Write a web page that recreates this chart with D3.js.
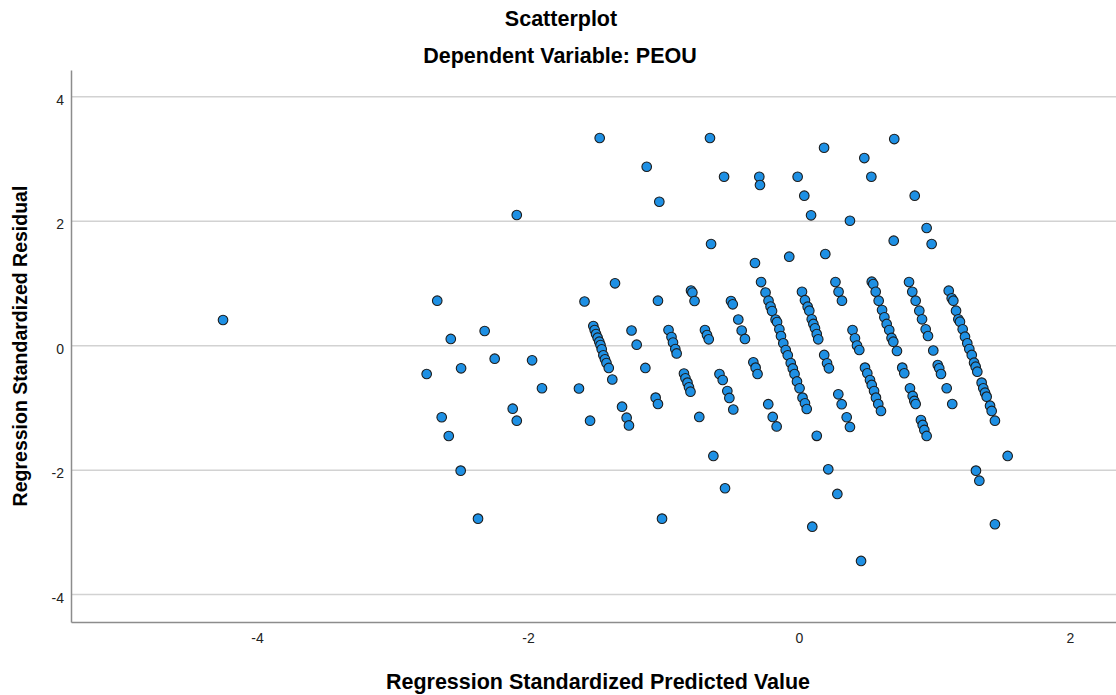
<!DOCTYPE html>
<html>
<head>
<meta charset="utf-8">
<script src="https://cdn.jsdelivr.net/npm/d3@7"></script>
<style>
    html, body { margin: 0; padding: 0; background: #fff; }
    svg { display: block; font-family: "Liberation Sans", Arial, sans-serif; }
    .title { font-weight: bold; font-size: 21.5px; fill: #000; }
    .axis-label { font-weight: bold; font-size: 21.5px; fill: #000; }
</style>
</head>
<body>
<svg id="chart" width="1116" height="695"></svg>
<script>
// ===== Data (standardized predicted value, standardized residual) =====
const xTicks = [-4, -2, 0, 2];
const yTicks = [-4, -2, 0, 2, 4];

// scattered points on the left and outliers
const leftPoints = [
    [-4.251, 0.413], [-2.670, 0.723], [-2.748, -0.455], [-2.637, -1.150], [-2.585, -1.451],
    [-2.570, 0.108], [-2.497, -2.008], [-2.494, -0.363], [-2.369, -2.779], [-2.320, 0.236],
    [-2.246, -0.209], [-2.113, -1.012], [-2.083, 2.100], [-2.083, -1.205], [-1.970, -0.235],
    [-1.897, -0.684], [-1.583, 0.710], [-1.624, -0.688], [-1.542, -1.205], [-1.358, 1.002],
    [-1.306, -0.980], [-1.272, -1.157], [-1.255, -1.282], [-1.236, 0.244], [-1.198, 0.016],
    [-1.134, -0.358], [-1.058, -0.835], [-1.041, -0.937], [-1.041, 0.723], [-1.011, -2.779]
];

// points far above the band
const upperPoints = [
    [-1.471, 3.337], [-1.124, 2.875], [-1.031, 2.313], [-0.657, 3.337], [-0.649, 1.634],
    [-0.553, 2.715], [-0.293, 2.715], [-0.288, 2.582], [-0.325, 1.329], [-0.010, 2.715],
    [0.039, 2.410], [0.089, 2.095], [0.185, 3.181], [0.376, 2.008], [0.482, 3.015],
    [0.534, 2.715], [0.703, 3.320], [0.854, 2.410], [0.942, 1.891], [0.979, 1.634],
    [0.699, 1.687], [-0.072, 1.430], [0.194, 1.473]
];

// points far below the band
const lowerPoints = [
    [-0.736, -1.145], [-0.632, -1.772], [-0.546, -2.291], [0.131, -1.449], [0.216, -1.986],
    [0.283, -2.382], [0.098, -2.908], [0.458, -3.459], [1.540, -1.772], [1.306, -2.008],
    [1.331, -2.169], [1.446, -2.869]
];

// diagonal stripes of the main band
const stripeA = [
    [-1.518, 0.316], [-1.508, 0.252], [-1.498, 0.188], [-1.486, 0.129], [-1.474, 0.064],
    [-1.465, 0.011], [-1.456, -0.058], [-1.444, -0.154], [-1.432, -0.218], [-1.421, -0.278],
    [-1.404, -0.358], [-1.378, -0.543]
];
const stripeB = [
    [-0.963, 0.252], [-0.941, 0.140], [-0.930, 0.051], [-0.913, -0.053], [-0.903, -0.125],
    [-0.849, -0.447], [-0.838, -0.524], [-0.823, -0.594], [-0.812, -0.668], [-0.801, -0.739],
    [-0.797, 0.887], [-0.787, 0.855], [-0.771, 0.718],
    [-0.694, 0.252], [-0.679, 0.172], [-0.666, 0.103],
    [-0.587, -0.455], [-0.563, -0.551], [-0.529, -0.728], [-0.514, -0.840], [-0.485, -1.025],
    [-0.502, 0.718], [-0.489, 0.665], [-0.448, 0.421], [-0.423, 0.244], [-0.399, 0.108],
    [-0.337, -0.267], [-0.320, -0.353], [-0.306, -0.455],
    [-0.227, -0.940], [-0.194, -1.145], [-0.165, -1.298]
];
const stripeC = [
    [-0.280, 1.023], [-0.247, 0.855], [-0.225, 0.723], [-0.210, 0.630], [-0.199, 0.557],
    [-0.173, 0.421], [-0.162, 0.381], [-0.145, 0.263], [-0.133, 0.156], [-0.116, 0.039],
    [-0.098, -0.069], [-0.083, -0.154], [-0.061, -0.278], [-0.046, -0.366], [-0.033, -0.455],
    [-0.015, -0.575], [0.004, -0.684], [0.026, -0.835], [0.044, -0.925], [0.057, -1.017]
];
const stripeD = [
    [0.022, 0.867], [0.044, 0.731], [0.064, 0.627], [0.076, 0.562], [0.094, 0.424],
    [0.106, 0.349], [0.118, 0.280], [0.131, 0.188], [0.142, 0.103],
    [0.186, -0.149], [0.207, -0.283], [0.221, -0.363],
    [0.269, 1.023], [0.292, 0.867], [0.317, 0.723],
    [0.290, -0.781], [0.315, -0.940], [0.352, -1.150], [0.376, -1.306],
    [0.395, 0.252], [0.413, 0.119], [0.428, 0.003], [0.445, -0.069]
];
const stripeE = [
    [0.537, 1.028], [0.548, 0.991], [0.566, 0.867], [0.588, 0.723], [0.613, 0.573],
    [0.630, 0.456], [0.647, 0.349], [0.666, 0.252], [0.683, 0.124], [0.696, 0.064],
    [0.723, -0.085],
    [0.487, -0.353], [0.504, -0.443], [0.524, -0.551], [0.537, -0.631], [0.554, -0.728],
    [0.568, -0.835], [0.585, -0.937], [0.605, -1.049],
    [0.762, -0.353], [0.777, -0.443]
];
const stripeF = [
    [0.812, 1.023], [0.836, 0.867], [0.861, 0.723], [0.888, 0.562], [0.908, 0.424],
    [0.935, 0.263], [0.952, 0.156], [0.991, -0.077],
    [0.819, -0.684], [0.839, -0.808], [0.851, -0.888], [0.861, -0.937],
    [0.900, -1.194], [0.913, -1.274], [0.925, -1.354], [0.942, -1.450],
    [1.024, -0.310], [1.035, -0.363], [1.048, -0.455], [1.090, -0.684], [1.131, -0.937]
];
const stripeG = [
    [1.105, 0.884], [1.127, 0.761], [1.139, 0.723], [1.159, 0.562], [1.176, 0.424],
    [1.188, 0.386], [1.208, 0.263], [1.225, 0.145], [1.242, 0.039], [1.257, -0.053],
    [1.275, -0.149], [1.292, -0.273], [1.304, -0.337], [1.316, -0.418], [1.348, -0.594],
    [1.360, -0.684], [1.373, -0.755], [1.385, -0.819], [1.410, -0.964], [1.422, -1.049],
    [1.446, -1.205]
];

const allPoints = [].concat(leftPoints, upperPoints, lowerPoints,
    stripeA, stripeB, stripeC, stripeD, stripeE, stripeF, stripeG);

// ===== Layout =====
const svg = d3.select('#chart');
const plot = { left: 71, top: 70, right: 1125, bottom: 622 };

const xScale = d3.scaleLinear().domain([-5.373, 2.406]).range([plot.left, plot.right]);
const yScale = d3.scaleLinear().domain([-4.44, 4.43]).range([plot.bottom, plot.top]);

// Titles
svg.append('text').attr('class', 'title')
    .attr('x', 561).attr('y', 26).attr('text-anchor', 'middle')
    .text('Scatterplot');
svg.append('text').attr('class', 'title')
    .attr('x', 560).attr('y', 63).attr('text-anchor', 'middle')
    .text('Dependent Variable: PEOU');

// Horizontal gridlines
svg.append('g')
    .selectAll('line')
    .data(yTicks)
    .enter()
    .append('line')
    .attr('x1', plot.left).attr('x2', plot.right)
    .attr('y1', d => yScale(d)).attr('y2', d => yScale(d))
    .attr('stroke', '#d2d2d2')
    .attr('stroke-width', 1.5);

// Axes (labels only, no tick marks); SPSS prints a plain hyphen for minus
const plainFormat = d => String(d);
const yAxis = svg.append('g')
    .attr('transform', `translate(${plot.left},0)`)
    .call(d3.axisLeft(yScale).tickValues(yTicks).tickSize(0).tickPadding(7).tickFormat(plainFormat));
const xAxis = svg.append('g')
    .attr('transform', `translate(0,${plot.bottom})`)
    .call(d3.axisBottom(xScale).tickValues(xTicks).tickSize(0).tickPadding(11).tickFormat(plainFormat));

[xAxis, yAxis].forEach(ax => {
    ax.select('.domain').attr('stroke', '#8c8c8c').attr('stroke-width', 1.5);
    ax.selectAll('text')
        .attr('fill', '#222')
        .style('font-family', '"Liberation Sans Narrow", "Liberation Sans", Arial, sans-serif')
        .style('font-size', '14px');
});
yAxis.selectAll('text').attr('dy', '0.55em');

// Axis titles
svg.append('text').attr('class', 'axis-label')
    .attr('x', (plot.left + plot.right) / 2).attr('y', 689)
    .attr('text-anchor', 'middle')
    .text('Regression Standardized Predicted Value');
svg.append('text').attr('class', 'axis-label')
    .style('font-size', '19.5px')
    .attr('transform', 'rotate(-90)')
    .attr('x', -(plot.top + plot.bottom) / 2).attr('y', 27)
    .attr('text-anchor', 'middle')
    .text('Regression Standardized Residual');

// Points
svg.append('g')
    .selectAll('circle')
    .data(allPoints)
    .enter()
    .append('circle')
    .attr('cx', d => xScale(d[0]))
    .attr('cy', d => yScale(d[1]))
    .attr('r', 4.8)
    .attr('fill', '#1e90e4')
    .attr('stroke', '#1c1c1c')
    .attr('stroke-width', 1.1);
</script>
</body>
</html>
